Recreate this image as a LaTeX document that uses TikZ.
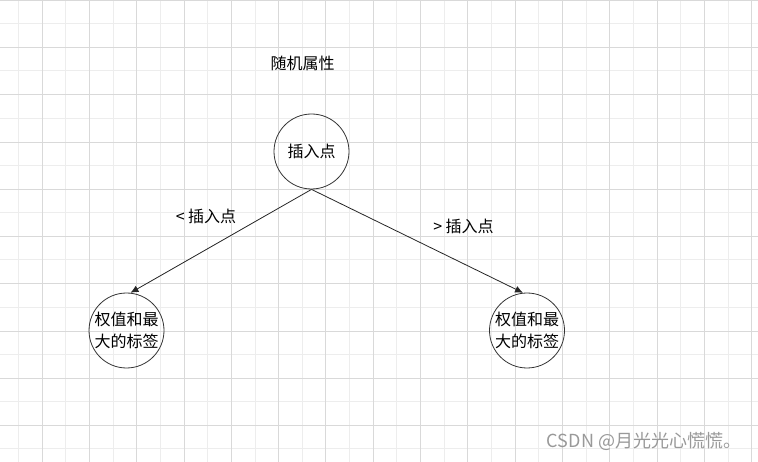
\documentclass[tikz,border=0pt]{standalone}
\usepackage{fontspec}
\setmainfont{Noto Sans CJK SC}
\usetikzlibrary{arrows.meta}
\begin{document}
\begin{tikzpicture}[x=1pt,y=-1pt,
  minorgrid/.style={draw=black!7,line width=0.8pt},
  majorgrid/.style={draw=black!15,line width=0.8pt},
  circ/.style={circle,draw=black!80,line width=0.8pt,minimum size=75pt,inner sep=0pt,
    font=\fontsize{16}{22}\selectfont,align=center},
  lbl/.style={font=\fontsize{16}{20}\selectfont,inner sep=0pt},
  conn/.style={draw=black!85,line width=0.8pt,-{Latex[length=8pt,width=7pt]}}]
\useasboundingbox (0,0) rectangle (758,462);
\fill[white] (0,0) rectangle (758,462);
% grid
\foreach \i in {0,...,15} { \draw[minorgrid] ({18.4+47.3*\i},0) -- ++(0,462); }
\foreach \i in {0,...,9} { \draw[minorgrid] (0,{23.6+47.25*\i}) -- ++(758,0); }
\foreach \i in {0,...,15} { \draw[majorgrid] ({42+47.3*\i},0) -- ++(0,462); }
\foreach \i in {0,...,9} { \draw[majorgrid] (0,{0.4+47.25*\i}) -- ++(758,0); }
% nodes
\node[lbl] (title) at (302.5,63) {随机属性};
\node[circ] (top) at (311.5,151.5) {插入点};
\node[circ] (left) at (126.5,330.5) {权值和最\\大的标签};
\node[circ] (right) at (527,330.5) {权值和最\\大的标签};
\node[lbl] (ll) at (206,216) {< 插入点};
\node[lbl] (rl) at (463.5,226.5) {> 插入点};
% connectors
\draw[conn] (top.south) -- (left.84);
\draw[conn] (top.south) -- (right.96);
% watermark
\node[inner sep=0pt,font=\fontsize{18}{20}\selectfont,text=black!40] (wm) at (644,441) {CSDN @月光光心慌慌。};
\end{tikzpicture}
\end{document}
